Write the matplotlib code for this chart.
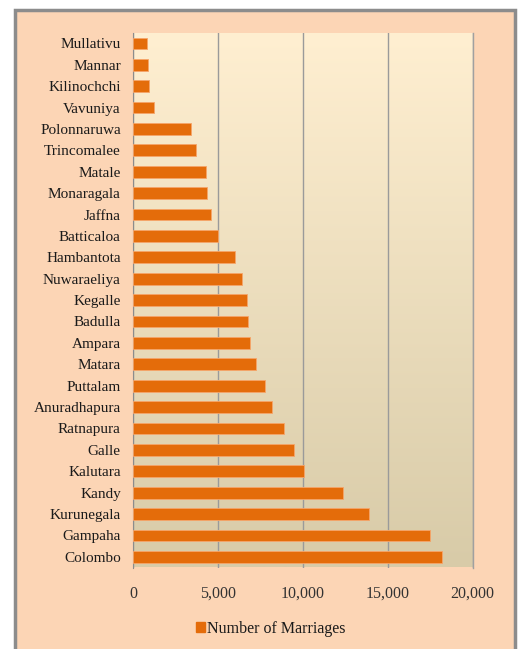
import numpy as np
import matplotlib
matplotlib.use('Agg')
import matplotlib.pyplot as plt
from matplotlib.patches import Rectangle

# Data --------------------------------------------------
districts = ['Mullativu', 'Mannar', 'Kilinochchi', 'Vavuniya', 'Polonnaruwa',
             'Trincomalee', 'Matale', 'Monaragala', 'Jaffna', 'Batticaloa',
             'Hambantota', 'Nuwaraeliya', 'Kegalle', 'Badulla', 'Ampara',
             'Matara', 'Puttalam', 'Anuradhapura', 'Ratnapura', 'Galle',
             'Kalutara', 'Kandy', 'Kurunegala', 'Gampaha', 'Colombo']
marriages = [830, 880, 940, 1200, 3400,
             3700, 4300, 4370, 4590, 4980,
             6000, 6400, 6730, 6790, 6890,
             7240, 7790, 8180, 8900, 9470,
             10080, 12340, 13910, 17490, 18230]
xticks = [0, 5000, 10000, 15000, 20000]
xticklabels = ['0', '5,000', '10,000', '15,000', '20,000']
series_name = 'Number of Marriages'

# Figure ------------------------------------------------
plt.rcParams['font.family'] = ['Liberation Serif', 'DejaVu Serif']
fig = plt.figure(figsize=(5.2, 6.49), dpi=100, facecolor='white')

# chart frame
frame = Rectangle((15 / 520, -0.02), 500 / 520, 1 - 10 / 649 + 0.02,
                  transform=fig.transFigure, facecolor='#FCD5B5',
                  edgecolor='#8C8C8C', linewidth=2.5, zorder=-5)
fig.patches.append(frame)

ax = fig.add_axes([133.3 / 520, 1 - 567.5 / 649, 339.2 / 520, 534.8 / 649])
ax.set_zorder(2)
ax.set_facecolor('none')

n = len(districts)
ypos = np.arange(n)

# gradient plot area
grad = np.linspace(0, 1, 256).reshape(-1, 1)
top = np.array([0xFF, 0xEF, 0xD1]) / 255
bottom = np.array([0xD8, 0xCB, 0xA8]) / 255
img = top + (bottom - top) * grad[..., None]
ax.imshow(img, aspect='auto', extent=[0, 20000, n - 0.5, -0.5],
          origin='upper', zorder=0)

ax.barh(ypos, marriages, height=0.55, color='#E46C0A',
        edgecolor='#F6A56A', linewidth=0.6, zorder=3)

ax.set_xlim(0, 20000)
ax.set_ylim(n - 0.5, -0.5)
ax.set_xticks(xticks)
ax.set_xticklabels(xticklabels, fontsize=11.5, color='#333333')
ax.set_yticks(ypos)
ax.set_yticklabels(districts, fontsize=11, color='#1A1A1A')
ax.tick_params(axis='y', length=0, pad=9)
ax.tick_params(axis='x', length=0, pad=13)

ax.grid(axis='x', color='#9A9A9A', linewidth=1.0, zorder=1)
ax.set_axisbelow(True)
for s in ['top', 'bottom']:
    ax.spines[s].set_visible(False)
ax.spines['left'].set_color('#8C8C8C')
ax.spines['right'].set_color('#A0A0A0')
ax.spines['right'].set_linewidth(1.0)

# legend
leg = fig.legend([Rectangle((0, 0), 1, 1, color='#E46C0A')], [series_name],
                 loc='center', bbox_to_anchor=(0.52, 1 - 629 / 649),
                 frameon=False, fontsize=11.5, handlelength=0.6,
                 handleheight=0.6, handletextpad=0.1)
for t in leg.get_texts():
    t.set_color('#1A1A1A')

fig.savefig('out.png', dpi=100, facecolor='white')
